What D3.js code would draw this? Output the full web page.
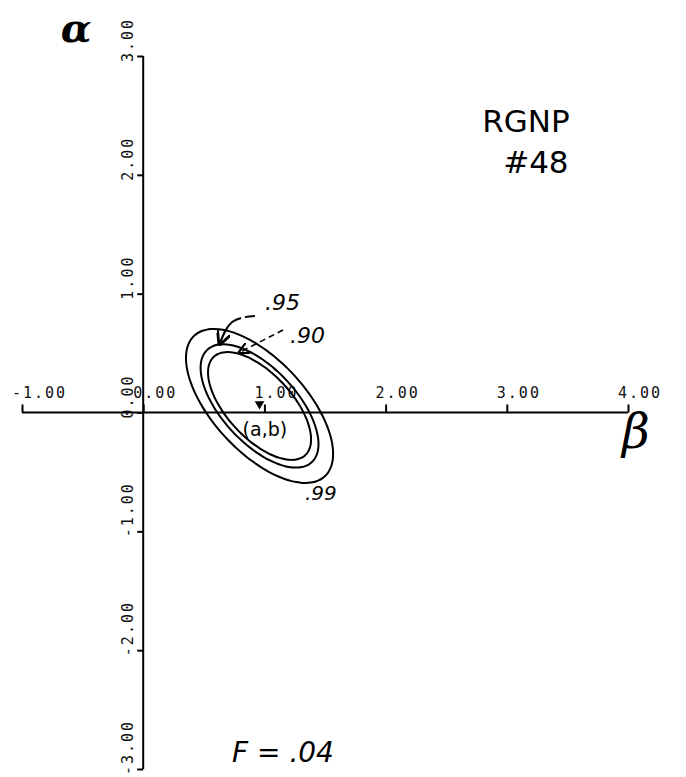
<!DOCTYPE html>
<html>
<head>
<meta charset="utf-8">
<script src="https://cdn.jsdelivr.net/npm/d3@7"></script>
<style>
  body { margin: 0; background: #fff; }
  svg { display: block; }
  .tick-label { font-family: "DejaVu Sans Mono", monospace; font-size: 15px; letter-spacing: 2px; fill: #111; }
  .hand { font-family: "DejaVu Sans", sans-serif; fill: #000; }
</style>
</head>
<body>
<div id="chart"></div>
<script>
// Axis ticks (beta horizontal, alpha vertical)
const xTicks = [-1, 0, 1, 2, 3, 4]
const xTickLabels = ["-1.00", "0.00", "1.00", "2.00", "3.00", "4.00"]
const yTicks = [3, 2, 1, 0, -1, -2, -3]
const yTickLabels = ["3.00", "2.00", "1.00", "0.00", "-1.00", "-2.00", "-3.00"]

// Estimate (b, a) and the confidence regions around it
const center = [0.96, 0.055]
const levels = [".90", ".95", ".99"]
const semiMajor = [0.56, 0.64, 0.80]
const semiMinor = [0.27, 0.31, 0.385]
const tiltDeg = -48

// Hand lettering, in data units
const notes = [
  { text: ".95", x: 1.005, y: 0.863, size: 22, italic: true },
  { text: ".90", x: 1.211, y: 0.585, size: 22, italic: true },
  { text: ".99", x: 1.335, y: -0.736, size: 20, italic: true },
  { text: "(a,b)", x: 0.82, y: -0.2, size: 19, italic: false },
  { text: "RGNP", x: 2.797, y: 2.36, size: 31, italic: false },
  { text: "#48", x: 2.97, y: 2.013, size: 31, italic: false },
]

const width = 686, height = 777

const svg = d3.select("#chart").append("svg")
    .attr("width", width)
    .attr("height", height)

const x = d3.scaleLinear().domain([-1, 4]).range([22, 628])
const y = d3.scaleLinear().domain([-3, 3]).range([769, 56])

// x axis with ticks pointing up
svg.append("g")
    .attr("transform", `translate(0,${y(0)})`)
    .call(d3.axisTop(x).tickValues(xTicks).tickSize(8).tickFormat(""))
    .call(g => g.select(".domain").attr("d", `M${x(-1)},0H${x(4)}`))
    .selectAll("path, line").attr("stroke", "#000").attr("stroke-width", 2)

// y axis with ticks pointing left
svg.append("g")
    .attr("transform", `translate(${x(0)},0)`)
    .call(d3.axisLeft(y).tickValues(yTicks).tickSize(6).tickFormat(""))
    .call(g => g.select(".domain").attr("d", `M0,${y(3)}V${y(-3)}`))
    .selectAll("path, line").attr("stroke", "#000").attr("stroke-width", 2)

svg.selectAll(".xlab")
    .data(xTicks)
    .join("text")
    .attr("class", "tick-label")
    .attr("x", d => x(d) - 10)
    .attr("y", y(0) - 15)
    .text((d, i) => xTickLabels[i])

svg.selectAll(".ylab")
    .data(yTicks)
    .join("text")
    .attr("class", "tick-label")
    .attr("transform", d => `translate(${x(0) - 10},${y(d) + 6}) rotate(-90)`)
    .text((d, i) => yTickLabels[i])

// Confidence ellipses
const t = tiltDeg * Math.PI / 180
function ellipsePath(a, b) {
    const pts = d3.range(0, 361, 4).map(deg => {
        const u = deg * Math.PI / 180
        const ex = a * Math.cos(u), ey = b * Math.sin(u)
        return [center[0] + ex * Math.cos(t) - ey * Math.sin(t),
                center[1] + ex * Math.sin(t) + ey * Math.cos(t)]
    })
    return d3.line().x(d => x(d[0])).y(d => y(d[1])).curve(d3.curveCardinalClosed)(pts)
}

svg.selectAll(".ring")
    .data(levels)
    .join("path")
    .attr("d", (d, i) => ellipsePath(semiMajor[i], semiMinor[i]))
    .attr("fill", "none")
    .attr("stroke", "#000")
    .attr("stroke-width", 2)

// Marker at the estimate
svg.append("path")
    .attr("d", d3.symbol(d3.symbolTriangle, 40)())
    .attr("transform", `translate(${x(center[0])},${y(center[1]) - 2}) rotate(180)`)
    .attr("fill", "#000")

// Arrows pointing to the rings
svg.append("defs").append("marker")
    .attr("id", "head")
    .attr("viewBox", "0 0 10 10")
    .attr("refX", 8).attr("refY", 5)
    .attr("markerWidth", 7).attr("markerHeight", 7)
    .attr("orient", "auto")
    .append("path")
    .attr("d", "M0,0L10,5L0,10")
    .attr("fill", "none")
    .attr("stroke", "#000")
    .attr("stroke-width", 2)

const arrow95 = [[0.922, 0.812], [0.734, 0.762], [0.634, 0.585]]
const arrow90 = [[1.154, 0.694], [0.80, 0.509]]

svg.append("path")
    .attr("d", d3.line().x(d => x(d[0])).y(d => y(d[1])).curve(d3.curveNatural)(arrow95))
    .attr("fill", "none").attr("stroke", "#000").attr("stroke-width", 2)
    .attr("stroke-dasharray", "10,4,40")
    .attr("marker-end", "url(#head)")

svg.append("path")
    .attr("d", d3.line().x(d => x(d[0])).y(d => y(d[1]))(arrow90))
    .attr("fill", "none").attr("stroke", "#000").attr("stroke-width", 1.6)
    .attr("stroke-dasharray", "6,4")
    .attr("marker-end", "url(#head)")

svg.selectAll(".note")
    .data(notes)
    .join("text")
    .attr("class", "hand")
    .attr("x", d => x(d.x))
    .attr("y", d => y(d.y))
    .style("font-size", d => d.size + "px")
    .style("font-style", d => d.italic ? "italic" : "normal")
    .text(d => d.text)

// Axis letters
svg.append("text").attr("class", "hand")
    .attr("x", x(-0.68)).attr("y", y(3.12))
    .style("font-size", "40px").style("font-family", "DejaVu Serif").style("font-style", "italic")
    .style("font-weight", "bold")
    .text("α")

svg.append("text").attr("class", "hand")
    .attr("x", x(3.95)).attr("y", y(-0.3))
    .style("font-size", "48px").style("font-family", "DejaVu Serif").style("font-style", "italic")
    .text("β")

svg.append("text").attr("class", "hand")
    .attr("x", x(0.733)).attr("y", y(-2.941))
    .style("font-size", "28px").style("font-style", "italic")
    .text("F = .04")
</script>
</body>
</html>
